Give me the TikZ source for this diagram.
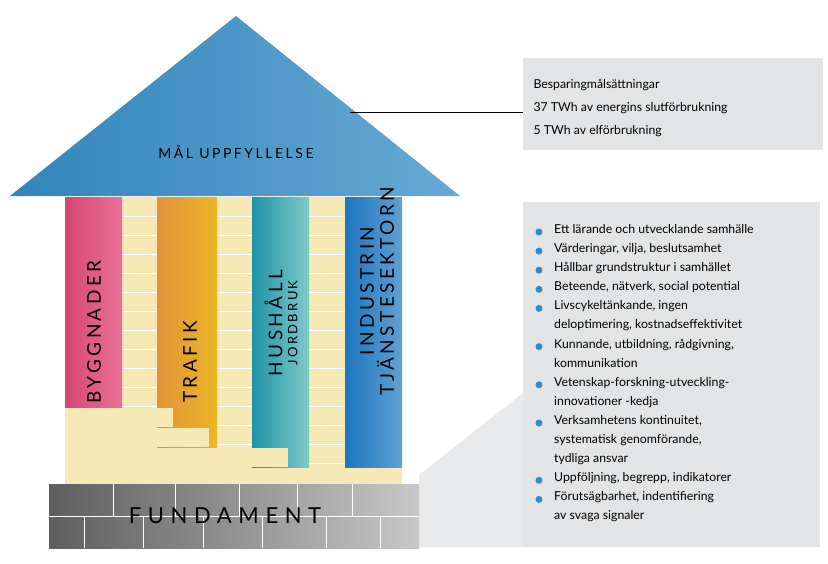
\documentclass[tikz,border=0pt]{standalone}
\usepackage{fontspec}
\setmainfont{Lato}
\usetikzlibrary{positioning}
\definecolor{cream}{RGB}{246,233,182}
\definecolor{roofblue}{RGB}{52,140,196}
\definecolor{boxgrey}{RGB}{226,228,230}
\definecolor{dotblue}{RGB}{48,140,200}
\newcommand{\spaced}[1]{\addfontfeatures{LetterSpace=18}#1}

\begin{document}
\begin{tikzpicture}[x=1pt,y=-1pt,
  pillar/.style={font=\fontsize{19}{21}\selectfont, rotate=90},
  bullet/.style={circle, fill=dotblue, inner sep=0pt, minimum size=7pt},
  itemtext/.style={anchor=north west, align=left, inner sep=0pt, font=\fontsize{12.3}{19.1}\selectfont}]
\useasboundingbox (0,0) rectangle (828,563);
% grey boxes and connector
\fill[boxgrey] (523,58) rectangle (823,150);
\fill[boxgrey] (523,202) rectangle (820,547);
\fill[boxgrey!80] (419,475) -- (523,393) -- (523,547) -- (419,547) -- cycle;
% roof
\shade[left color=roofblue!95!black, right color=roofblue!75] (10,196) -- (236,16) -- (460,196) -- cycle;
\draw[thick] (350,112) -- (523,112);
\node[font=\fontsize{14}{16}\selectfont] (goal) at (236,152) {\spaced{MÅL UPPFYLLELSE}};
% cream wall with bricks
\fill[cream] (65,197) rectangle (402,484);
\foreach \y in {216,235,...,466} \draw[white, line width=0.8pt] (65,\y) -- (402,\y);
% pillars
\shade[left color={rgb,255:red,214;green,72;blue,112}, right color={rgb,255:red,232;green,112;blue,152}] (65,197) rectangle (122,408);
\shade[left color={rgb,255:red,226;green,146;blue,56}, right color={rgb,255:red,234;green,182;blue,40}] (157,197) rectangle (217,447);
\shade[left color={rgb,255:red,30;green,146;blue,168}, right color={rgb,255:red,128;green,202;blue,200}] (252,197) rectangle (309,467);
\shade[left color={rgb,255:red,28;green,118;blue,190}, right color={rgb,255:red,96;green,160;blue,210}] (345,197) rectangle (402,467);
% steps
\fill[cream] (65,408) rectangle (173,427);
\fill[cream] (65,428) rectangle (209,447);
\fill[cream] (65,448) rectangle (288,467);
\fill[cream] (65,468) rectangle (402,484);
\node[pillar] (bygg) at (94,332) {\spaced{BYGGNADER}};
\node[pillar] (trafik) at (190,362) {\spaced{TRAFIK}};
\node[pillar, font=\fontsize{19}{15}\selectfont, align=center] (hush) at (281,323) {\spaced{HUSHÅLL}\\{\fontsize{13}{15}\selectfont\spaced{JORDBRUK}}};
\node[pillar, align=center, font=\fontsize{19}{20}\selectfont] (ind) at (377,291) {\spaced{INDUSTRIN}\\\spaced{TJÄNSTESEKTORN}};
% foundation
\shade[left color={rgb,255:red,95;green,93;blue,95}, right color={rgb,255:red,200;green,200;blue,200}] (49,484) rectangle (419,548);
\draw[white, line width=1pt] (49,516) -- (419,516);
\foreach \x in {113,175,239,297,352} \draw[white, line width=1pt] (\x,484) -- (\x,516);
\foreach \x in {84,143,203,262,326,380} \draw[white, line width=1pt] (\x,516) -- (\x,548);
\node[font=\fontsize{22}{24}\selectfont] (fund) at (225,516) {\addfontfeatures{LetterSpace=30}FUNDAMENT};
% targets
\node[anchor=west, font=\fontsize{12.3}{14}\selectfont] (t1) at (530,85) {Besparingmålsättningar};
\node[anchor=west, font=\fontsize{12.3}{14}\selectfont] (t2) at (530,108) {37 TWh av energins slutförbrukning};
\node[anchor=west, font=\fontsize{12.3}{14}\selectfont] (t3) at (530,131) {5 TWh av elförbrukning};
% list
\foreach \n/\txt in {0/Ett lärande och utvecklande samhälle,
  1/{Värderingar, vilja, beslutsamhet},
  2/Hållbar grundstruktur i samhället,
  3/{Beteende, nätverk, social potential},
  4/{Livscykeltänkande, ingen\\deloptimering, kostnadseffektivitet},
  6/{Kunnande, utbildning, rådgivning,\\kommunikation},
  8/{Vetenskap-forskning-utveckling-\\innovationer -kedja},
  10/{Verksamhetens kontinuitet,\\systematisk genomförande,\\tydliga ansvar},
  13/{Uppföljning, begrepp, indikatorer},
  14/{Förutsägbarhet, indentifiering\\av svaga signaler}}{
  \node[bullet] (b\n) at (539,{232+19.1*\n}) {};
  \node[itemtext] (i\n) at (554,{224+19.1*\n}) {\txt};
}
\end{tikzpicture}
\end{document}
